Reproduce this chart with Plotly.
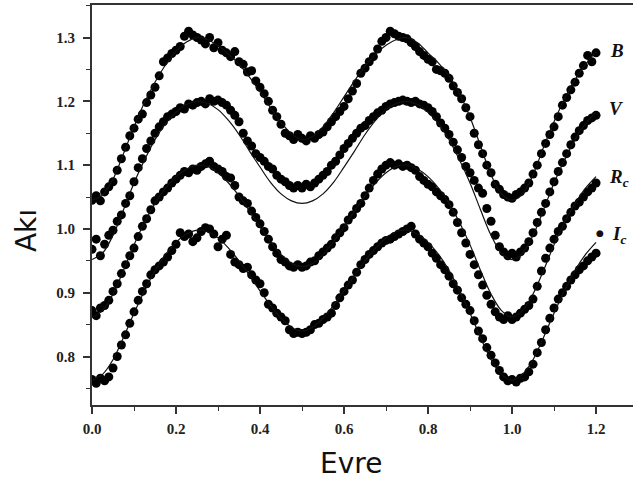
import plotly.graph_objects as go

# ---------------- data ----------------
phase = [
    0.00, 0.01, 0.02, 0.03, 0.04, 0.05, 0.06, 0.07, 0.08, 0.09,
    0.10, 0.11, 0.12, 0.13, 0.14, 0.15, 0.16, 0.17, 0.18, 0.19,
    0.20, 0.21, 0.22, 0.23, 0.24, 0.25, 0.26, 0.27, 0.28, 0.29,
    0.30, 0.31, 0.32, 0.33, 0.34, 0.35, 0.36, 0.37, 0.38, 0.39,
    0.40, 0.41, 0.42, 0.43, 0.44, 0.45, 0.46, 0.47, 0.48, 0.49,
    0.50, 0.51, 0.52, 0.53, 0.54, 0.55, 0.56, 0.57, 0.58, 0.59,
    0.60, 0.61, 0.62, 0.63, 0.64, 0.65, 0.66, 0.67, 0.68, 0.69,
    0.70, 0.71, 0.72, 0.73, 0.74, 0.75, 0.76, 0.77, 0.78, 0.79,
    0.80, 0.81, 0.82, 0.83, 0.84, 0.85, 0.86, 0.87, 0.88, 0.89,
    0.90, 0.91, 0.92, 0.93, 0.94, 0.95, 0.96, 0.97, 0.98, 0.99,
    1.00, 1.01, 1.02, 1.03, 1.04, 1.05, 1.06, 1.07, 1.08, 1.09,
    1.10, 1.11, 1.12, 1.13, 1.14, 1.15, 1.16, 1.17, 1.18, 1.19,
    1.20,
]

flux_B = [
    1.045, 1.052, 1.044, 1.058, 1.066, 1.074, 1.092, 1.110, 1.128, 1.146,
    1.158, 1.172, 1.180, 1.198, 1.210, 1.222, 1.240, 1.262, 1.268, 1.275,
    1.280, 1.286, 1.302, 1.310, 1.304, 1.300, 1.296, 1.290, 1.300, 1.284,
    1.292, 1.280, 1.276, 1.270, 1.278, 1.262, 1.258, 1.246, 1.248, 1.232,
    1.222, 1.212, 1.200, 1.186, 1.176, 1.164, 1.150, 1.146, 1.140, 1.148,
    1.142, 1.138, 1.146, 1.142, 1.148, 1.152, 1.160, 1.168, 1.176, 1.184,
    1.192, 1.204, 1.216, 1.228, 1.244, 1.252, 1.262, 1.270, 1.282, 1.294,
    1.300, 1.310, 1.306, 1.302, 1.300, 1.298, 1.292, 1.286, 1.278, 1.272,
    1.266, 1.262, 1.250, 1.248, 1.244, 1.236, 1.224, 1.214, 1.204, 1.190,
    1.176, 1.150, 1.132, 1.118, 1.100, 1.088, 1.070, 1.062, 1.054, 1.050,
    1.048, 1.054, 1.058, 1.064, 1.072, 1.086, 1.100, 1.118, 1.134, 1.148,
    1.160, 1.176, 1.194, 1.206, 1.218, 1.230, 1.244, 1.256, 1.272, 1.262,
    1.276,
]

flux_V = [
    0.968, 0.984, 0.958, 0.976, 0.990, 0.998, 1.012, 1.022, 1.040, 1.052,
    1.074, 1.096, 1.110, 1.126, 1.138, 1.150, 1.160, 1.168, 1.176, 1.180,
    1.184, 1.190, 1.188, 1.196, 1.194, 1.198, 1.200, 1.196, 1.204, 1.200,
    1.202, 1.198, 1.194, 1.186, 1.178, 1.168, 1.150, 1.138, 1.130, 1.118,
    1.112, 1.106, 1.098, 1.094, 1.084, 1.078, 1.074, 1.068, 1.064, 1.068,
    1.064, 1.070, 1.066, 1.072, 1.078, 1.084, 1.090, 1.100, 1.106, 1.116,
    1.126, 1.134, 1.142, 1.150, 1.158, 1.162, 1.170, 1.176, 1.182, 1.186,
    1.192, 1.196, 1.198, 1.200, 1.202, 1.200, 1.198, 1.200, 1.196, 1.194,
    1.190, 1.184, 1.176, 1.166, 1.158, 1.148, 1.136, 1.124, 1.112, 1.098,
    1.088, 1.076, 1.064, 1.056, 1.032, 1.012, 0.990, 0.972, 0.964, 0.958,
    0.962, 0.956, 0.964, 0.970, 0.980, 0.994, 1.010, 1.026, 1.040, 1.058,
    1.074, 1.090, 1.104, 1.118, 1.132, 1.144, 1.154, 1.162, 1.170, 1.174,
    1.178,
]

flux_Rc = [
    0.872, 0.864, 0.876, 0.880, 0.888, 0.902, 0.914, 0.930, 0.944, 0.958,
    0.970, 0.988, 1.004, 1.016, 1.030, 1.044, 1.050, 1.058, 1.064, 1.072,
    1.078, 1.084, 1.090, 1.088, 1.094, 1.092, 1.098, 1.102, 1.106, 1.098,
    1.094, 1.090, 1.082, 1.080, 1.068, 1.050, 1.044, 1.040, 1.028, 1.018,
    1.008, 0.996, 0.984, 0.972, 0.962, 0.952, 0.948, 0.942, 0.940, 0.944,
    0.940, 0.942, 0.948, 0.950, 0.958, 0.964, 0.970, 0.976, 0.986, 0.994,
    1.002, 1.014, 1.022, 1.032, 1.040, 1.052, 1.064, 1.076, 1.086, 1.094,
    1.100, 1.104, 1.100, 1.102, 1.098, 1.100, 1.096, 1.092, 1.082, 1.076,
    1.070, 1.066, 1.058, 1.052, 1.046, 1.038, 1.026, 1.010, 0.994, 0.978,
    0.960, 0.944, 0.928, 0.912, 0.896, 0.882, 0.870, 0.862, 0.858, 0.864,
    0.858, 0.862, 0.868, 0.874, 0.880, 0.890, 0.910, 0.934, 0.954, 0.970,
    0.984, 0.996, 1.004, 1.016, 1.026, 1.036, 1.042, 1.050, 1.058, 1.064,
    1.072,
]

flux_Ic = [
    0.764, 0.758, 0.766, 0.762, 0.768, 0.782, 0.800, 0.818, 0.834, 0.852,
    0.870, 0.888, 0.902, 0.914, 0.928, 0.936, 0.942, 0.948, 0.956, 0.966,
    0.976, 0.994, 0.988, 0.992, 0.980, 0.986, 0.996, 1.002, 1.000, 0.992,
    0.972, 0.984, 0.990, 0.960, 0.948, 0.944, 0.938, 0.940, 0.928, 0.920,
    0.914, 0.900, 0.882, 0.876, 0.868, 0.862, 0.856, 0.842, 0.836, 0.838,
    0.836, 0.838, 0.842, 0.850, 0.852, 0.858, 0.862, 0.868, 0.880, 0.892,
    0.902, 0.912, 0.920, 0.932, 0.944, 0.952, 0.960, 0.966, 0.972, 0.978,
    0.982, 0.984, 0.988, 0.992, 0.996, 1.000, 1.004, 0.992, 0.984, 0.978,
    0.972, 0.962, 0.954, 0.944, 0.936, 0.926, 0.914, 0.904, 0.892, 0.882,
    0.872, 0.856, 0.840, 0.828, 0.814, 0.802, 0.790, 0.778, 0.768, 0.762,
    0.764, 0.760, 0.766, 0.768, 0.776, 0.788, 0.806, 0.822, 0.842, 0.860,
    0.876, 0.890, 0.900, 0.910, 0.920, 0.928, 0.936, 0.942, 0.950, 0.956,
    0.962,
]

model_phase = [
    0.000, 0.025, 0.050, 0.075, 0.100, 0.125, 0.150, 0.175, 0.200, 0.225,
    0.250, 0.275, 0.300, 0.325, 0.350, 0.375, 0.400, 0.425, 0.450, 0.475,
    0.500, 0.525, 0.550, 0.575, 0.600, 0.625, 0.650, 0.675, 0.700, 0.725,
    0.750, 0.775, 0.800, 0.825, 0.850, 0.875, 0.900, 0.925, 0.950, 0.975,
    1.000, 1.025, 1.050, 1.075, 1.100, 1.125, 1.150, 1.175, 1.200,
]

model_B = [
    1.045, 1.053, 1.078, 1.118, 1.160, 1.198, 1.230, 1.257, 1.278, 1.293,
    1.300, 1.297, 1.287, 1.274, 1.258, 1.238, 1.215, 1.190, 1.167, 1.149,
    1.140, 1.145, 1.160, 1.182, 1.207, 1.232, 1.255, 1.274, 1.288, 1.297,
    1.300, 1.292, 1.276, 1.260, 1.240, 1.212, 1.175, 1.130, 1.085, 1.055,
    1.045, 1.055, 1.085, 1.128, 1.168, 1.204, 1.234, 1.258, 1.278,
]

model_V = [
    0.952, 0.962, 0.990, 1.030, 1.072, 1.108, 1.140, 1.165, 1.183, 1.195,
    1.200, 1.197, 1.187, 1.170, 1.148, 1.122, 1.097, 1.073, 1.055, 1.044,
    1.040, 1.044, 1.055, 1.073, 1.097, 1.122, 1.148, 1.170, 1.187, 1.197,
    1.200, 1.195, 1.183, 1.165, 1.140, 1.108, 1.072, 1.030, 0.990, 0.962,
    0.952, 0.962, 0.990, 1.030, 1.072, 1.108, 1.140, 1.165, 1.183,
]

model_Rc = [
    0.862, 0.872, 0.898, 0.935, 0.975, 1.010, 1.040, 1.064, 1.082, 1.094,
    1.100, 1.098, 1.088, 1.072, 1.052, 1.028, 1.003, 0.980, 0.960, 0.946,
    0.941, 0.946, 0.960, 0.980, 1.003, 1.028, 1.052, 1.072, 1.088, 1.098,
    1.100, 1.094, 1.082, 1.064, 1.040, 1.010, 0.975, 0.935, 0.898, 0.872,
    0.862, 0.872, 0.898, 0.935, 0.975, 1.010, 1.040, 1.064, 1.082,
]

model_Ic = [
    0.763, 0.772, 0.795, 0.830, 0.868, 0.903, 0.935, 0.960, 0.979, 0.992,
    0.998, 0.996, 0.986, 0.970, 0.950, 0.927, 0.903, 0.880, 0.860, 0.846,
    0.840, 0.846, 0.860, 0.880, 0.903, 0.927, 0.950, 0.970, 0.986, 0.996,
    0.998, 0.992, 0.979, 0.960, 0.935, 0.903, 0.868, 0.830, 0.795, 0.772,
    0.763, 0.772, 0.795, 0.830, 0.868, 0.903, 0.935, 0.960, 0.979,
]

band_names = ["B", "V", "Rc", "Ic"]
band_labels = ["B", "V", "R<sub>c</sub>", "I<sub>c</sub>"]
label_phase = [1.249, 1.247, 1.255, 1.255]
label_flux = [1.279, 1.188, 1.080, 0.991]

x_ticks = [0.0, 0.2, 0.4, 0.6, 0.8, 1.0, 1.2]
y_ticks = [0.8, 0.9, 1.0, 1.1, 1.2, 1.3]

# ---------------- figure ----------------
fig = go.Figure()
data_sets = [flux_B, flux_V, flux_Rc, flux_Ic]
model_sets = [model_B, model_V, model_Rc, model_Ic]

for name, ys in zip(band_names, data_sets):
    fig.add_trace(go.Scatter(
        x=phase, y=ys, mode="markers", name=name,
        marker=dict(color="black", size=9, line=dict(width=0)),
        showlegend=False))

for name, ys in zip(band_names, model_sets):
    fig.add_trace(go.Scatter(
        x=model_phase, y=ys, mode="lines", name=name + " model",
        line=dict(color="#111111", width=1.2, shape="spline"),
        showlegend=False))

label_font = dict(family="Liberation Serif", size=19, color="#111111",
                  weight="bold", style="italic")
for lab, lx, ly in zip(band_labels, label_phase, label_flux):
    fig.add_annotation(x=lx, y=ly, xref="x", yref="y", text=lab,
                       showarrow=False, xanchor="center", yanchor="middle",
                       font=label_font)
# small dot drawn beside the Ic label in the original
fig.add_annotation(x=1.21, y=0.994, xref="x", yref="y", text="●",
                   showarrow=False, xanchor="center", yanchor="middle",
                   font=dict(family="DejaVu Sans", size=9, color="#111111"))

tickfont = dict(family="Liberation Serif", size=15, color="#222222", weight="bold")

fig.update_xaxes(
    range=[0, 1.288], tickvals=x_ticks, ticktext=[f"{v:.1f}" for v in x_ticks],
    ticks="outside", ticklen=7, tickwidth=1.5, tickcolor="#333333",
    showline=True, linecolor="#333333", linewidth=2, mirror=True,
    showgrid=False, zeroline=False, tickfont=tickfont, ticklabelstandoff=2,
    minor=dict(ticks="outside", ticklen=4, tickwidth=1.2, tickcolor="#333333",
               dtick=0.1, tick0=0, showgrid=False),
)
fig.update_yaxes(
    range=[0.724, 1.351], tickvals=y_ticks, ticktext=[f"{v:.1f}" for v in y_ticks],
    ticks="outside", ticklen=7, tickwidth=1.5, tickcolor="#333333",
    showline=True, linecolor="#333333", linewidth=2, mirror=False,
    showgrid=False, zeroline=False, tickfont=tickfont, ticklabelstandoff=5,
    minor=dict(ticks="outside", ticklen=4, tickwidth=1.2, tickcolor="#333333",
               dtick=0.05, tick0=0.8, showgrid=False),
)

fig.add_annotation(text="Evre", xref="paper", yref="paper", x=0.478, y=0,
                   yshift=-58, showarrow=False, xanchor="center", yanchor="middle",
                   font=dict(family="DejaVu Sans", size=28, color="#111111"))
fig.add_annotation(text="Akı", xref="paper", yref="paper", x=-0.12, y=0.435,
                   textangle=-90, showarrow=False, xanchor="center", yanchor="middle",
                   font=dict(family="DejaVu Sans", size=28, color="#111111"))

fig.update_layout(
    width=633, height=487,
    margin=dict(l=92, r=0, t=5, b=82),
    paper_bgcolor="white", plot_bgcolor="white",
)

fig.write_html("out.html")
